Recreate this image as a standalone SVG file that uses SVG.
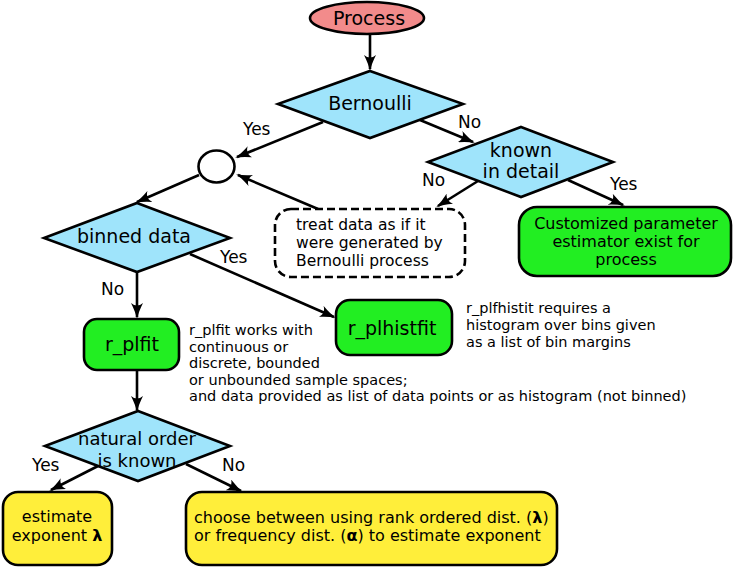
<svg xmlns="http://www.w3.org/2000/svg" width="733" height="569" viewBox="0 0 733 569">
<style>
text{font-family:"DejaVu Sans","Liberation Sans",sans-serif;fill:#000}
.sh{stroke:#000;stroke-width:2.6}
.dia{fill:#9fe4fb;stroke:#000;stroke-width:2.6;stroke-linejoin:miter}
.grn{fill:#22ee22;stroke:#000;stroke-width:2.6}
.yel{fill:#ffee3a;stroke:#000;stroke-width:2.6}
.c{text-anchor:middle}
.big{font-size:19px}
.mid{font-size:16px}
.lbl{font-size:17px}
.note{font-size:14.5px}
.con{fill:none;stroke:#000;stroke-width:2.6;marker-end:url(#ah)}
</style>
<defs>
<marker id="ah" viewBox="0 0 16 12" refX="14" refY="6" markerWidth="16" markerHeight="12" markerUnits="userSpaceOnUse" orient="auto">
<path d="M0,0 Q9,4.5 16,6 Q9,7.5 0,12 Q5,6 0,0 z" fill="#000"/>
</marker>
</defs>

<g id="connectors">
<line class="con" x1="370" y1="34" x2="370" y2="69"/>
<line class="con" x1="420" y1="120" x2="473" y2="142"/>
<line class="con" x1="323" y1="122" x2="237" y2="157"/>
<line class="con" x1="318" y1="209" x2="238" y2="175"/>
<line class="con" x1="478" y1="181" x2="438" y2="206"/>
<line class="con" x1="568" y1="180" x2="623" y2="205"/>
<line class="con" x1="199" y1="175" x2="137" y2="202"/>
<line class="con" x1="190" y1="254" x2="334" y2="317"/>
<line class="con" x1="137" y1="272" x2="137" y2="317"/>
<line class="con" x1="137" y1="370" x2="137" y2="410"/>
<line class="con" x1="98" y1="466" x2="51" y2="490"/>
<line class="con" x1="186" y1="464" x2="241" y2="491"/>
</g>

<g id="labels">
<text class="lbl" x="243" y="135">Yes</text>
<text class="lbl" x="458" y="128">No</text>
<text class="lbl" x="422" y="186">No</text>
<text class="lbl" x="610" y="190">Yes</text>
<text class="lbl" x="220" y="263">Yes</text>
<text class="lbl" x="101" y="295">No</text>
<text class="lbl" x="32" y="471">Yes</text>
<text class="lbl" x="222" y="471">No</text>
</g>

<g id="process">
<ellipse cx="367" cy="18" rx="57" ry="16" fill="#f28b8b" class="sh"/>
<text class="c big" x="369" y="24.5">Process</text>
</g>

<g id="bernoulli">
<polygon class="dia" points="370,71 463,104 370,138 278,104"/>
<text class="c big" x="370" y="110">Bernoulli</text>
</g>

<g id="known">
<polygon class="dia" points="521,127 613,162 521,197 428,162"/>
<text class="c big" x="521" y="157">known</text>
<text class="c big" x="521" y="178">in detail</text>
</g>

<g id="merge">
<ellipse cx="216.5" cy="166.5" rx="18" ry="16" fill="#fff" class="sh"/>
</g>

<g id="treat">
<rect x="275" y="209" width="190" height="68" rx="16" fill="#fff" stroke="#000" stroke-width="2.6" stroke-dasharray="8,4"/>
<text x="296" y="230" style="font-size:15.5px">treat data as if it</text>
<text x="296" y="248" style="font-size:15.5px">were generated by</text>
<text x="296" y="266" style="font-size:15.5px">Bernoulli process</text>
</g>

<g id="customized">
<rect class="grn" x="519" y="207" width="212" height="69" rx="18"/>
<text class="c mid" x="626" y="229">Customized parameter</text>
<text class="c mid" x="626" y="247">estimator exist for</text>
<text class="c mid" x="626" y="265">process</text>
</g>

<g id="binned">
<polygon class="dia" points="137,203 230,238 137,272 44,238"/>
<text class="c big" x="134" y="243">binned data</text>
</g>

<g id="plfit">
<rect class="grn" x="84" y="319" width="95" height="51" rx="13"/>
<text class="c big" x="132" y="351">r_plfit</text>
</g>

<g id="plhistfit">
<rect class="grn" x="336" y="300" width="116" height="55" rx="14"/>
<text class="c big" x="392" y="335">r_plhistfit</text>
</g>

<g id="note-plfit">
<text class="note" x="189" y="335">r_plfit works with</text>
<text class="note" x="189" y="352">continuous or</text>
<text class="note" x="189" y="368">discrete, bounded</text>
<text class="note" x="189" y="385">or unbounded sample spaces;</text>
<text class="note" x="189" y="401">and data provided as list of data points or as histogram (not binned)</text>
</g>

<g id="note-plhistfit">
<text class="note" x="466" y="313">r_plfhistit requires a</text>
<text class="note" x="466" y="330">histogram over bins given</text>
<text class="note" x="466" y="347">as a list of bin margins</text>
</g>

<g id="natural">
<polygon class="dia" points="138,411 230,446 138,481 45,446"/>
<text class="c" x="137" y="445" style="font-size:18px">natural order</text>
<text class="c" x="137" y="467" style="font-size:18px">is known</text>
</g>

<g id="estimate">
<rect class="yel" x="3" y="492" width="109" height="73" rx="15"/>
<text class="c mid" x="57" y="522">estimate</text>
<text class="c mid" x="57" y="541">exponent <tspan font-weight="bold">λ</tspan></text>
</g>

<g id="choose">
<rect class="yel" x="186" y="492" width="371" height="73" rx="16"/>
<text class="mid" x="194" y="523">choose between using rank ordered dist. (<tspan font-weight="bold">λ</tspan>)</text>
<text class="mid" x="194" y="541">or frequency dist. (<tspan font-weight="bold">α</tspan>) to estimate exponent</text>
</g>
</svg>
